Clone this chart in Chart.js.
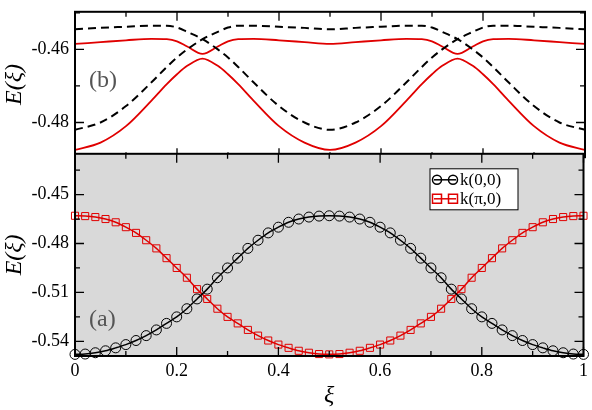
<!DOCTYPE html><html><head><meta charset="utf-8">
<script src="https://cdn.jsdelivr.net/npm/chart.js@4"></script>
<style>body{margin:0;width:592px;height:410px;background:#fff;overflow:hidden}canvas{position:absolute;left:0}</style>
</head><body>
<div style="position:absolute;left:0;top:-5px;width:592px;height:179px"><canvas id="c1"></canvas></div>
<div style="position:absolute;left:0;top:137px;width:592px;height:273px"><canvas id="c2"></canvas></div>
<script>
// bottom panel (a)
const xA = [0,0.02,0.04,0.06,0.08,0.10,0.12,0.14,0.16,0.18,0.20,0.22,0.24,0.26,0.28,0.30,0.32,0.34,0.36,0.38,0.40,0.42,0.44,0.46,0.48,0.50,0.52,0.54,0.56,0.58,0.60,0.62,0.64,0.66,0.68,0.70,0.72,0.74,0.76,0.78,0.80,0.82,0.84,0.86,0.88,0.90,0.92,0.94,0.96,0.98,1.0];
const k00 = [-0.548,-0.5478,-0.547,-0.5458,-0.544,-0.542,-0.5395,-0.5365,-0.533,-0.529,-0.525,-0.520,-0.514,-0.508,-0.501,-0.495,-0.489,-0.483,-0.478,-0.4735,-0.470,-0.467,-0.465,-0.4638,-0.4632,-0.463,-0.4632,-0.4638,-0.465,-0.467,-0.470,-0.4735,-0.478,-0.483,-0.489,-0.495,-0.501,-0.508,-0.514,-0.520,-0.525,-0.529,-0.533,-0.5365,-0.5395,-0.542,-0.544,-0.5458,-0.547,-0.5478,-0.548];
const kpi0 = [-0.463,-0.4632,-0.4638,-0.465,-0.467,-0.470,-0.4735,-0.478,-0.483,-0.489,-0.495,-0.501,-0.508,-0.514,-0.520,-0.525,-0.529,-0.533,-0.5365,-0.5395,-0.542,-0.544,-0.5458,-0.547,-0.5478,-0.548,-0.5478,-0.547,-0.5458,-0.544,-0.542,-0.5395,-0.5365,-0.533,-0.529,-0.525,-0.520,-0.514,-0.508,-0.501,-0.495,-0.489,-0.483,-0.478,-0.4735,-0.470,-0.467,-0.465,-0.4638,-0.4632,-0.463];
// top panel (b)
const xB = [0,0.05,0.10,0.15,0.18,0.20,0.22,0.25,0.28,0.30,0.32,0.35,0.40,0.45,0.50,0.55,0.60,0.65,0.68,0.70,0.72,0.75,0.78,0.80,0.82,0.85,0.90,0.95,1.0];
const dashA = [-0.4545,-0.4541,-0.4538,-0.4535,-0.4535,-0.4540,-0.4552,-0.4572,-0.4600,-0.4622,-0.4648,-0.4690,-0.4755,-0.4800,-0.4820,-0.4800,-0.4755,-0.4690,-0.4648,-0.4622,-0.4600,-0.4572,-0.4552,-0.4540,-0.4535,-0.4535,-0.4538,-0.4541,-0.4545];
const dashB = [-0.4820,-0.4800,-0.4755,-0.4690,-0.4648,-0.4622,-0.4600,-0.4572,-0.4552,-0.4540,-0.4535,-0.4535,-0.4538,-0.4541,-0.4545,-0.4541,-0.4538,-0.4535,-0.4535,-0.4540,-0.4552,-0.4572,-0.4600,-0.4622,-0.4648,-0.4690,-0.4755,-0.4800,-0.4820];
const redUp = [-0.4585,-0.4580,-0.4575,-0.4571,-0.4572,-0.4578,-0.4592,-0.4612,-0.4592,-0.4578,-0.4572,-0.4571,-0.4575,-0.4580,-0.4585,-0.4580,-0.4575,-0.4571,-0.4572,-0.4578,-0.4592,-0.4612,-0.4592,-0.4578,-0.4572,-0.4571,-0.4575,-0.4580,-0.4585];
const redLo = [-0.4875,-0.4855,-0.4810,-0.4740,-0.4695,-0.4668,-0.4645,-0.4625,-0.4645,-0.4668,-0.4695,-0.4740,-0.4810,-0.4855,-0.4875,-0.4855,-0.4810,-0.4740,-0.4695,-0.4668,-0.4645,-0.4625,-0.4645,-0.4668,-0.4695,-0.4740,-0.4810,-0.4855,-0.4875];
const yTicksA = [-0.54,-0.51,-0.48,-0.45];
const yTicksB = [-0.48,-0.46];

const pts=(xs,ys)=>xs.map((x,i)=>({x,y:ys[i]}));
const SERIF='"Liberation Serif","DejaVu Serif",serif';
Chart.defaults.font.family=SERIF;
Chart.defaults.color='#000';

function frame(minorY,majorY,bg,labelTxt,labelY,legend){
 return {id:'frame',
  beforeDraw(c){if(!bg)return;const a=c.chartArea,g=c.ctx;g.save();g.fillStyle=bg;g.fillRect(a.left,a.top,a.right-a.left,a.bottom-a.top);g.restore();},
  afterDraw(c){const a=c.chartArea,g=c.ctx,xs=c.scales.x,ys=c.scales.y;g.save();g.strokeStyle='#000';g.lineWidth=1.3;
   const xt=[0,0.1,0.2,0.3,0.4,0.5,0.6,0.7,0.8,0.9,1];
   xt.forEach((v,i)=>{const p=xs.getPixelForValue(v),L=i%2?5:9;g.beginPath();g.moveTo(p,a.bottom);g.lineTo(p,a.bottom-L);g.moveTo(p,a.top);g.lineTo(p,a.top+L);g.stroke();});
   const tk=(v,L)=>{const p=ys.getPixelForValue(v);if(p<a.top+1||p>a.bottom-1)return;g.beginPath();g.moveTo(a.left,p);g.lineTo(a.left+L,p);g.moveTo(a.right,p);g.lineTo(a.right-L,p);g.stroke();};
   minorY.forEach(v=>tk(v,5));majorY.forEach(v=>tk(v,9));
   g.lineWidth=2;g.strokeRect(a.left,a.top,a.right-a.left,a.bottom-a.top);
   g.fillStyle='#555';g.font='24px '+SERIF;g.textBaseline='middle';g.fillText(labelTxt,a.left+14,ys.getPixelForValue(labelY));
   if(legend){const lx=430,ly=a.top+15;g.fillStyle='#fff';g.fillRect(lx,ly,88,41);g.lineWidth=1;g.strokeStyle='#000';g.strokeRect(lx,ly,88,41);
    g.font='17px '+SERIF;g.fillStyle='#000';
    c.data.datasets.forEach((d,i)=>{const yy=ly+11+i*19;g.strokeStyle=d.borderColor;g.lineWidth=1.5;g.beginPath();g.moveTo(lx+4,yy);g.lineTo(lx+26,yy);g.stroke();
     [lx+7,lx+23].forEach(px=>{g.beginPath();if(i==0)g.arc(px,yy,4.5,0,7);else g.rect(px-4.5,yy-4.5,9,9);g.stroke();});
     g.fillStyle='#000';g.fillText(d.label,lx+30,yy+1);});}
   g.restore();}};
}
const yAxisCommon=(min,max,ticks)=>({type:'linear',min,max,
  afterFit(s){s.width=75;},afterBuildTicks(s){s.ticks=ticks.map(v=>({value:v}));},
  grid:{display:false,drawTicks:false},border:{display:false},
  ticks:{font:{size:18,family:SERIF},padding:6,callback:v=>v.toFixed(2)},
  title:{display:true,text:'E(ξ)',font:{size:24,style:'italic',family:SERIF},padding:{top:0,bottom:2}}});

new Chart(document.getElementById('c1'),{type:'line',
 data:{datasets:[
  {data:pts(xB,dashA),borderColor:'#000',borderDash:[8,5],borderWidth:2,pointRadius:0,cubicInterpolationMode:'monotone'},
  {data:pts(xB,dashB),borderColor:'#000',borderDash:[8,5],borderWidth:2,pointRadius:0,cubicInterpolationMode:'monotone'},
  {data:pts(xB,redUp),borderColor:'#e00000',borderWidth:1.8,pointRadius:0,cubicInterpolationMode:'monotone'},
  {data:pts(xB,redLo),borderColor:'#e00000',borderWidth:1.8,pointRadius:0,cubicInterpolationMode:'monotone'}]},
 options:{responsive:true,maintainAspectRatio:false,animation:false,events:[],
  layout:{padding:{top:0,right:7,bottom:0,left:0}},
  plugins:{legend:{display:false},tooltip:{enabled:false}},
  scales:{x:{type:'linear',min:0,max:1,display:false},y:yAxisCommon(-0.4895,-0.4497,yTicksB)}},
 plugins:[frame([-0.45,-0.47],yTicksB,null,'(b)',-0.4685,false)]});

new Chart(document.getElementById('c2'),{type:'line',
 data:{datasets:[
  {label:'k(0,0)',data:pts(xA,k00),borderColor:'#000',borderWidth:1.5,pointStyle:'circle',pointRadius:5,pointBorderWidth:1,pointBackgroundColor:'rgba(0,0,0,0)',pointBorderColor:'#000',tension:0.3},
  {label:'k(π,0)',data:pts(xA,kpi0),borderColor:'#e00000',borderWidth:1.5,pointStyle:'rect',pointRadius:5,pointBorderWidth:1,pointBackgroundColor:'rgba(0,0,0,0)',pointBorderColor:'#e00000',tension:0.3}]},
 options:{responsive:true,maintainAspectRatio:false,animation:false,events:[],clip:false,
  layout:{padding:{top:0,right:7,bottom:0,left:0}},
  plugins:{legend:{display:false},tooltip:{enabled:false}},
  scales:{x:{type:'linear',min:0,max:1,afterFit(s){s.height=54;},
    grid:{display:false,drawTicks:false},border:{display:false},
    ticks:{stepSize:0.2,font:{size:18,family:SERIF},padding:4,callback:v=>v===0||v===1?String(v):v.toFixed(1)},
    title:{display:true,text:'ξ',font:{size:24,style:'italic',family:SERIF},padding:{top:0,bottom:0}}},
   y:yAxisCommon(-0.549,-0.425,yTicksA)}},
 plugins:[frame([-0.435,-0.465,-0.495,-0.525],yTicksA,'#d9d9d9','(a)',-0.527,true)]});
</script></body></html>
